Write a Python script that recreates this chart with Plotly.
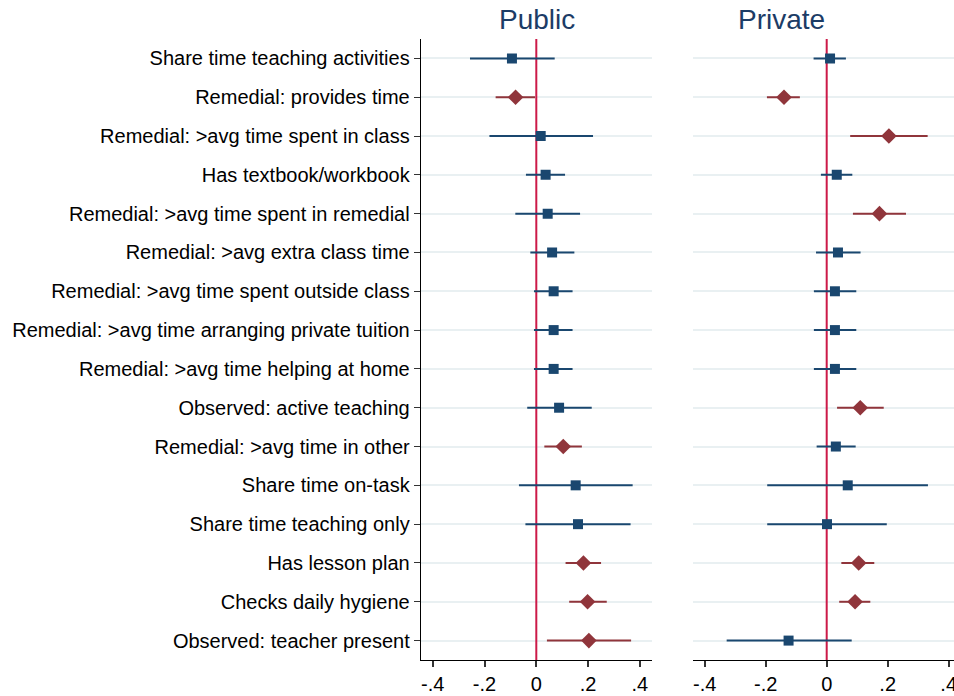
import plotly.graph_objects as go

labels = [
    "Share time teaching activities",
    "Remedial: provides time",
    "Remedial: >avg time spent in class",
    "Has textbook/workbook",
    "Remedial: >avg time spent in remedial",
    "Remedial: >avg extra class time",
    "Remedial: >avg time spent outside class",
    "Remedial: >avg time arranging private tuition",
    "Remedial: >avg time helping at home",
    "Observed: active teaching",
    "Remedial: >avg time in other",
    "Share time on-task",
    "Share time teaching only",
    "Has lesson plan",
    "Checks daily hygiene",
    "Observed: teacher present",
]

pub_est = [-0.094, -0.080, 0.017, 0.036, 0.044, 0.061, 0.067, 0.067, 0.067, 0.088, 0.104, 0.152, 0.161, 0.182, 0.198, 0.203]
pub_lo = [-0.256, -0.157, -0.181, -0.040, -0.081, -0.023, -0.009, -0.009, -0.009, -0.035, 0.031, -0.067, -0.042, 0.113, 0.127, 0.041]
pub_hi = [0.071, -0.005, 0.219, 0.111, 0.169, 0.147, 0.140, 0.140, 0.140, 0.214, 0.176, 0.372, 0.364, 0.250, 0.272, 0.366]
pub_sig = [False, True, False, False, False, False, False, False, False, False, True, False, False, True, True, True]

priv_est = [0.011, -0.140, 0.204, 0.033, 0.173, 0.037, 0.027, 0.027, 0.027, 0.110, 0.030, 0.069, 0.001, 0.105, 0.093, -0.125]
priv_lo = [-0.043, -0.196, 0.077, -0.019, 0.086, -0.035, -0.042, -0.042, -0.042, 0.034, -0.033, -0.195, -0.195, 0.048, 0.041, -0.328]
priv_hi = [0.063, -0.088, 0.331, 0.084, 0.260, 0.111, 0.097, 0.097, 0.097, 0.187, 0.095, 0.332, 0.197, 0.156, 0.143, 0.082]
priv_sig = [False, True, True, False, True, False, False, False, False, True, False, False, False, True, True, False]

x_ticks = [-0.4, -0.2, 0, 0.2, 0.4]
x_ticktext = ["-.4", "-.2", "0", ".2", ".4"]
panel_titles = ["Public", "Private"]

BLUE = "#1a476f"
RED = "#90353b"
VLINE = "#cc1a48"
GRID = "#e9f0f2"
TITLE = "#1c3c66"
FONT = "Liberation Sans, Arial, sans-serif"

rows = list(range(1, len(labels) + 1))
n = len(labels)

fig = go.Figure()


def add_panel(est, lo, hi, sig, xa, ya):
    # reference line at zero, drawn first so that markers sit on top
    fig.add_trace(go.Scatter(
        x=[0, 0], y=[0.5, n + 0.5], mode="lines",
        line=dict(color=VLINE, width=2), xaxis=xa, yaxis=ya,
        showlegend=False, hoverinfo="skip",
    ))
    for flag, color, symbol, size in [(False, BLUE, "square", 10), (True, RED, "diamond", 12)]:
        idx = [i for i in range(len(est)) if sig[i] == flag]
        fig.add_trace(go.Scatter(
            x=[est[i] for i in idx],
            y=[rows[i] for i in idx],
            mode="markers",
            marker=dict(symbol=symbol, size=size, color=color, line=dict(width=0)),
            error_x=dict(
                type="data", symmetric=False,
                array=[hi[i] - est[i] for i in idx],
                arrayminus=[est[i] - lo[i] for i in idx],
                color=color, thickness=2, width=0,
            ),
            xaxis=xa, yaxis=ya, showlegend=False, hoverinfo="x+y",
        ))


add_panel(pub_est, pub_lo, pub_hi, pub_sig, "x", "y")
add_panel(priv_est, priv_lo, priv_hi, priv_sig, "x2", "y2")

W, H = 954, 696
T, B = 39.3, 36
left_dom = [420.7 / W, 652 / W]
right_dom = [692.5 / W, 1.0]

xcommon = dict(
    tickvals=x_ticks, ticktext=x_ticktext, showgrid=False, zeroline=False,
    showline=True, linecolor="black", linewidth=1,
    ticks="outside", ticklen=6, tickcolor="#333333", tickwidth=1.5,
    tickfont=dict(family=FONT, size=20, color="black"),
    ticklabeloverflow="allow",
)

plot_h = H - T - B
title_y = 1 + (T - 20) / plot_h

fig.update_layout(
    width=W, height=H,
    margin=dict(l=0, r=0, t=T, b=B, autoexpand=False),
    paper_bgcolor="white", plot_bgcolor="white",
    xaxis=dict(domain=left_dom, range=[-0.4463, 0.4467], anchor="y", **xcommon),
    xaxis2=dict(domain=right_dom, range=[-0.44, 0.4174], anchor="y2", **xcommon),
    yaxis=dict(
        range=[n + 0.5, 0.5], tickvals=rows, ticktext=labels, anchor="x",
        showgrid=True, gridcolor=GRID, gridwidth=2, zeroline=False,
        showline=True, linecolor="black", linewidth=1,
        ticks="outside", ticklen=6, tickcolor="#333333",
        tickfont=dict(family=FONT, size=20, color="black"),
    ),
    yaxis2=dict(
        range=[n + 0.5, 0.5], tickvals=rows, anchor="x2",
        showticklabels=False, showgrid=True, gridcolor=GRID, gridwidth=2,
        zeroline=False, showline=False, ticks="",
    ),
    annotations=[
        dict(text=panel_titles[0], x=536.5 / W, y=title_y, xref="paper", yref="paper",
             yanchor="middle", showarrow=False, font=dict(family=FONT, size=28, color=TITLE)),
        dict(text=panel_titles[1], x=826.7 / W, y=title_y, xref="paper", yref="paper",
             yanchor="middle", showarrow=False, font=dict(family=FONT, size=28, color=TITLE)),
    ],
)

fig.write_html("out.html", config={"displayModeBar": False},
               post_script="document.body.style.margin='0';")
